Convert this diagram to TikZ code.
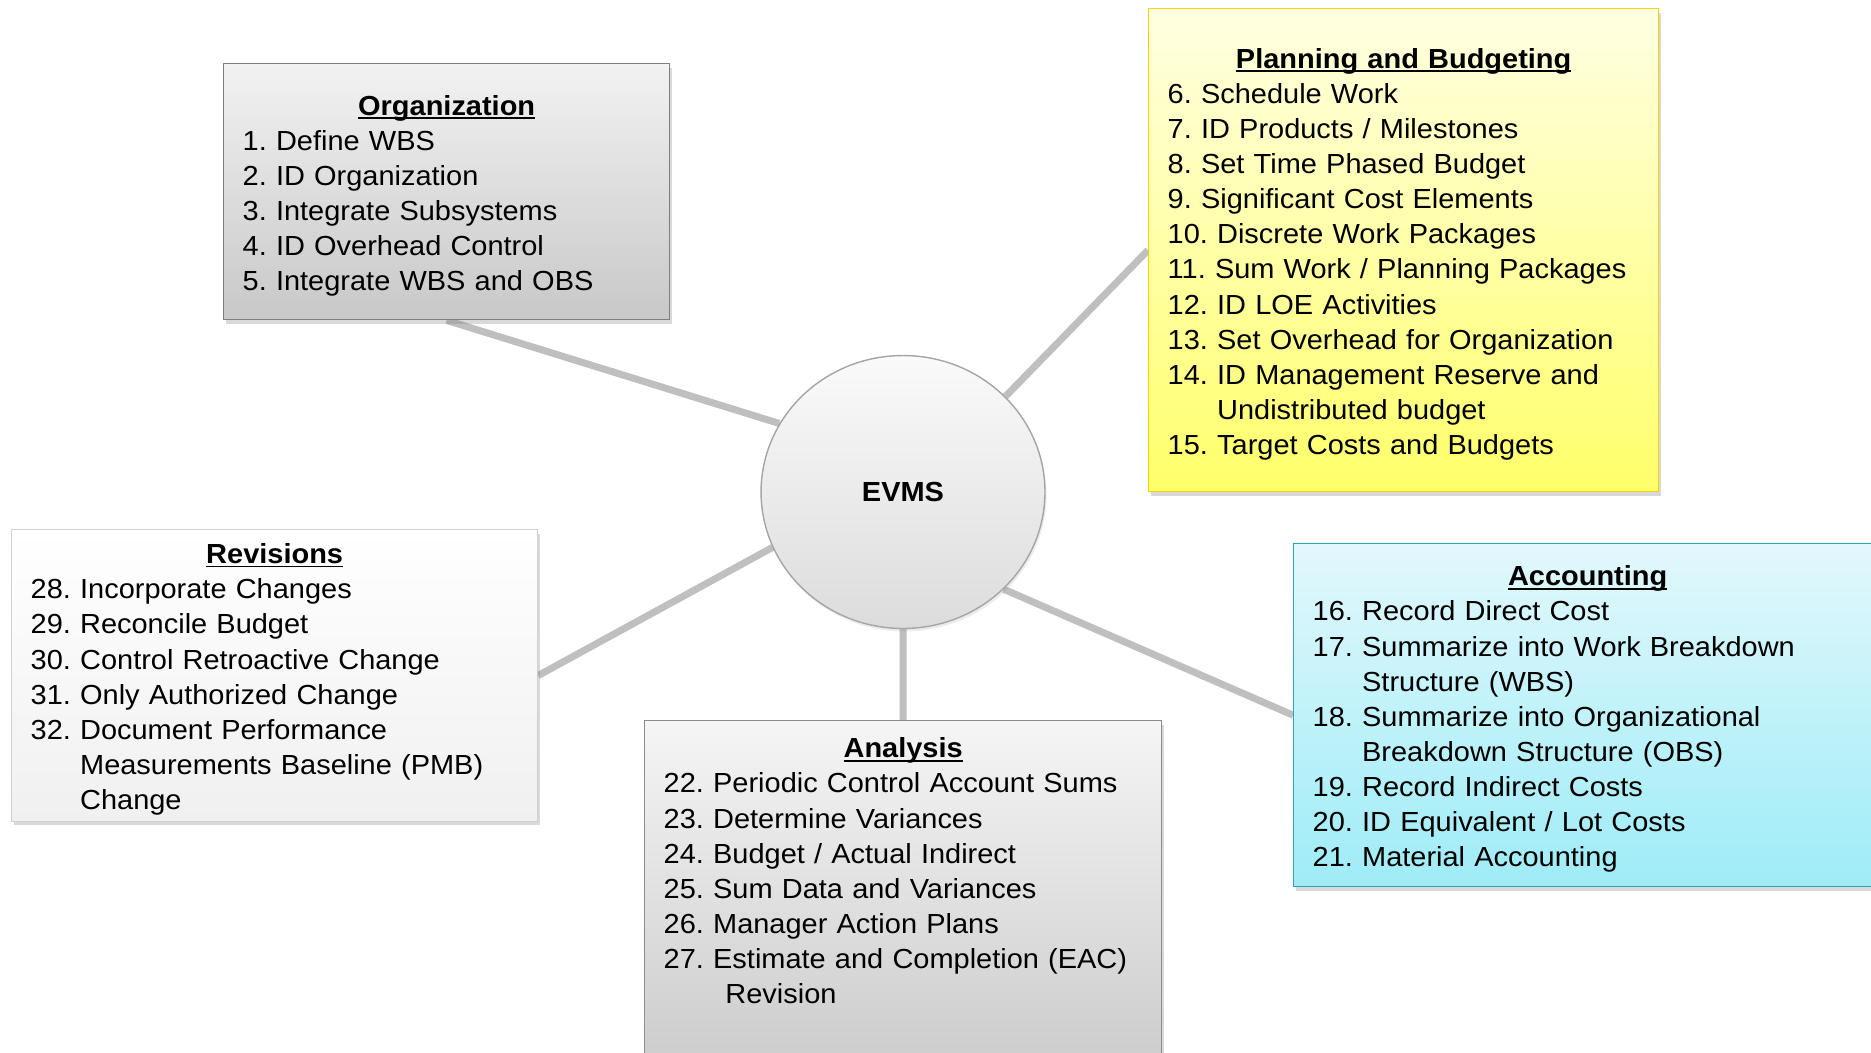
\documentclass[tikz,border=0pt]{standalone}
\usepackage{fontspec}
\setmainfont[FakeStretch=1.05]{Liberation Sans}
\usetikzlibrary{shapes.geometric,shadows,backgrounds}
\frenchspacing

\newcommand{\boxhead}[1]{{\bfseries\setbox0=\hbox{#1}\rule{0pt}{16pt}\rlap{\rule[-2.1pt]{\wd0}{1pt}}\box0}}

\begin{document}
\begin{tikzpicture}[x=0.02cm,y=-0.02cm,
        caja/.style={draw,line width=0.8pt,anchor=north west,inner xsep=0pt,
            align=left,font=\fontsize{15.7pt}{20pt}\selectfont,
            drop shadow={shadow xshift=0.5mm,shadow yshift=-0.8mm,opacity=0.3}},
        enlace/.style={line width=4pt,draw=enlacegris}]
        %colores
        \definecolor{enlacegris}{HTML}{BFBFBF}
        \definecolor{orgtop}{HTML}{F2F2F2}
        \definecolor{orgbot}{HTML}{C8C8C8}
        \definecolor{orgline}{HTML}{7F7F7F}
        \definecolor{plantop}{HTML}{FFFFE2}
        \definecolor{planbot}{HTML}{FFFF6A}
        \definecolor{planline}{HTML}{F5D300}
        \definecolor{accttop}{HTML}{E2F8FC}
        \definecolor{acctbot}{HTML}{9EECF7}
        \definecolor{acctline}{HTML}{2BA6B5}
        \definecolor{analtop}{HTML}{F5F5F5}
        \definecolor{analbot}{HTML}{C6C6C6}
        \definecolor{analline}{HTML}{8C8C8C}
        \definecolor{revtop}{HTML}{FFFFFF}
        \definecolor{revbot}{HTML}{F0F0F0}
        \definecolor{revline}{HTML}{D0D0D0}
        \definecolor{evmstop}{HTML}{FAFAFA}
        \definecolor{evmsbot}{HTML}{DCDCDC}
        \definecolor{evmsline}{HTML}{A5A5A5}

        \useasboundingbox (0,0) rectangle (1871,1052);
        \clip (0,0) rectangle (1871,1052);

        %centro
        \node[ellipse,draw=evmsline,line width=0.8pt,top color=evmstop,bottom color=evmsbot,
            minimum width=5.68cm,minimum height=5.46cm,
            font=\bfseries\fontsize{15.7pt}{20pt}\selectfont,
            drop shadow={shadow xshift=0.3mm,shadow yshift=-0.6mm,opacity=0.15}] (evms) at (903,492) {EVMS};

        %cajas
        \node[caja,draw=orgline,top color=orgtop,bottom color=orgbot,
            minimum width=8.92cm,minimum height=5.12cm,text width=8.16cm] (org) at (223,63) {
            {\centering\boxhead{Organization}\par}
            1. Define WBS\\
            2. ID Organization\\
            3. Integrate Subsystems\\
            4. ID Overhead Control\\
            5. Integrate WBS and OBS};

        \node[caja,draw=planline,top color=plantop,bottom color=planbot,
            minimum width=10.2cm,minimum height=9.66cm,text width=9.44cm] (plan) at (1148,8) {
            {\centering\boxhead{Planning and Budgeting}\par}
            6. Schedule Work\\
            7. ID Products / Milestones\\
            8. Set Time Phased Budget\\
            9. Significant Cost Elements\\
            10. Discrete Work Packages\\
            11. Sum Work / Planning Packages\\
            12. ID LOE Activities\\
            13. Set Overhead for Organization\\
            14. ID Management Reserve and\\
            \hphantom{14. }Undistributed budget\\
            15. Target Costs and Budgets};

        \node[caja,draw=acctline,top color=accttop,bottom color=acctbot,
            minimum width=11.76cm,minimum height=6.86cm,text width=11cm] (acct) at (1293,543) {
            {\centering\boxhead{Accounting}\par}
            16. Record Direct Cost\\
            17. Summarize into Work Breakdown\\
            \hphantom{17. }Structure (WBS)\\
            18. Summarize into Organizational\\
            \hphantom{18. }Breakdown Structure (OBS)\\
            19. Record Indirect Costs\\
            20. ID Equivalent / Lot Costs\\
            21. Material Accounting};

        \node[caja,draw=analline,top color=analtop,bottom color=analbot,inner ysep=0.18cm,
            minimum width=10.34cm,text width=9.58cm] (anal) at (644,720) {
            {\centering\boxhead{Analysis}\par}
            22. Periodic Control Account Sums\\
            23. Determine Variances\\
            24. Budget / Actual Indirect\\
            25. Sum Data and Variances\\
            26. Manager Action Plans\\
            27. Estimate and Completion (EAC)\\
            \hphantom{27. }\hspace*{7pt}Revision\\
            \rule{0pt}{2cm}};

        \node[caja,draw=revline,top color=revtop,bottom color=revbot,
            minimum width=10.52cm,minimum height=5.72cm,text width=9.76cm] (rev) at (11,529) {
            {\centering\boxhead{Revisions}\par}
            28. Incorporate Changes\\
            29. Reconcile Budget\\
            30. Control Retroactive Change\\
            31. Only Authorized Change\\
            32. Document Performance\\
            \hphantom{32. }Measurements Baseline (PMB)\\
            \hphantom{32. }Change};

        %conectores
        \begin{scope}[on background layer]
            \foreach \a/\b in {org.south/evms.151, evms.43/plan.west, evms.-44/acct.west,
                evms.south/anal.north, evms.203/rev.east}
            \draw[enlace] (\a) -- (\b);
        \end{scope}
    \end{tikzpicture}
\end{document}
